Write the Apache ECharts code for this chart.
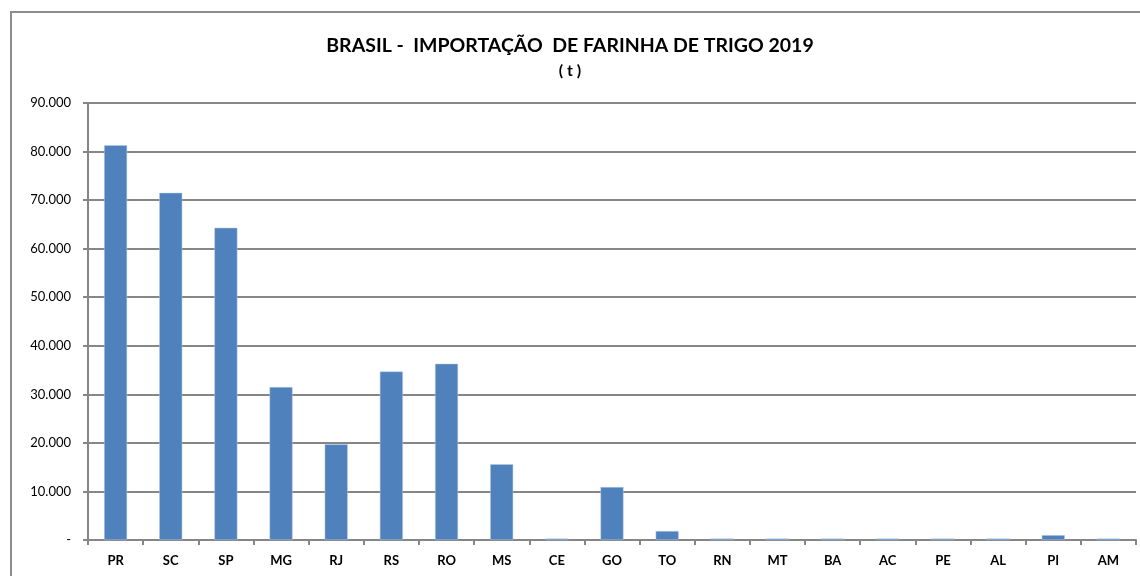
<!DOCTYPE html>
<html><head><meta charset="utf-8">
<script src="https://cdn.jsdelivr.net/npm/echarts@6/dist/echarts.min.js"></script>
<style>html,body{margin:0;padding:0;background:#fff}#c{width:1140px;height:576px}</style>
</head><body><div id="c"></div>
<script>
const categories = ['PR','SC','SP','MG','RJ','RS','RO','MS','CE','GO','TO','RN','MT','BA','AC','PE','AL','PI','AM'];
const values = [81300,71500,64300,31500,19700,34700,36300,15600,300,10900,1850,300,300,300,300,300,300,1000,300];
const yTicks = [0,10000,20000,30000,40000,50000,60000,70000,80000,90000];
const titleText = 'BRASIL -  IMPORTAÇÃO  DE FARINHA DE TRIGO 2019';
const subtitleText = '( t )';

const fmt = v => v === 0 ? '-' : String(v).replace(/\B(?=(\d{3})+(?!\d))/g, '.');
const chart = echarts.init(document.getElementById('c'), null, {renderer:'canvas'});
chart.setOption({
  animation:false,
  backgroundColor:'#fff',
  graphic:[{type:'rect',shape:{x:11,y:12,width:1140,height:600},style:{fill:'none',stroke:'#8c8c8c',lineWidth:2},silent:true}],
  title:[
    {text:titleText,left:'center',top:31,
     textStyle:{fontFamily:'Lato',fontWeight:'bold',fontSize:19.5,color:'#000'}},
    {text:subtitleText,left:'center',top:58,
     textStyle:{fontFamily:'Lato',fontWeight:'bold',fontSize:16,color:'#000'}}
  ],
  grid:{left:88,right:4,top:103,bottom:36,containLabel:false},
  xAxis:{type:'category',data:categories,
    axisLine:{lineStyle:{color:'#868686',width:2}},
    axisTick:{show:true,inside:false,length:5,lineStyle:{color:'#868686',width:2}},
    axisLabel:{fontFamily:'Lato',fontWeight:'bold',fontSize:13,color:'#000',margin:14}},
  yAxis:{type:'value',min:0,max:90000,interval:10000,
    axisLine:{show:true,lineStyle:{color:'#868686',width:2}},
    axisTick:{show:true,length:5,lineStyle:{color:'#868686',width:2}},
    splitLine:{lineStyle:{color:'#868686',width:2}},
    axisLabel:{fontFamily:'Lato',fontSize:13,color:'#000',margin:17,formatter:fmt}},
  series:[{type:'bar',data:values,barWidth:23,
    itemStyle:{color:'#4f81bd',borderColor:'#b9cde5',borderWidth:0.5}}]
});
</script></body></html>
